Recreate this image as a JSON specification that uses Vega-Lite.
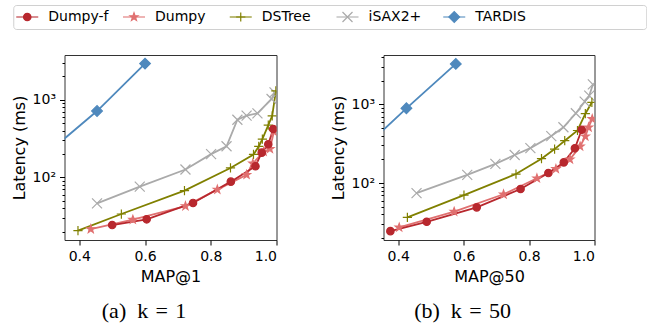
{
  "$schema": "https://vega.github.io/schema/vega-lite/v6.json",
  "padding": {"left": 10, "top": 4, "right": 0, "bottom": 0},
  "background": "white",
  "config": {
    "font": "DejaVu Sans",
    "view": {"stroke": "#333", "strokeWidth": 1},
    "axis": {"domain": false, "grid": false, "tickColor": "black", "labelColor": "black", "titleColor": "black", "labelFont": "DejaVu Sans", "titleFont": "DejaVu Sans", "labelFontSize": 14, "titleFontSize": 16, "titleFontWeight": "normal", "labelPadding": 4, "titlePadding": 5}
  },
  "datasets": {
    "legend": [
      {"series": "Dumpy-f"}, {"series": "Dumpy"}, {"series": "DSTree"}, {"series": "iSAX2+"}, {"series": "TARDIS"}
    ],
    "pts": [
      {"panel": "k1", "series": "TARDIS", "map": 0.30, "latency": 200},
      {"panel": "k1", "series": "TARDIS", "map": 0.454, "latency": 714},
      {"panel": "k1", "series": "TARDIS", "map": 0.60, "latency": 2914},
      {"panel": "k1", "series": "iSAX2+", "map": 0.454, "latency": 46.3},
      {"panel": "k1", "series": "iSAX2+", "map": 0.584, "latency": 75.9},
      {"panel": "k1", "series": "iSAX2+", "map": 0.723, "latency": 126},
      {"panel": "k1", "series": "iSAX2+", "map": 0.801, "latency": 199},
      {"panel": "k1", "series": "iSAX2+", "map": 0.848, "latency": 251},
      {"panel": "k1", "series": "iSAX2+", "map": 0.881, "latency": 552},
      {"panel": "k1", "series": "iSAX2+", "map": 0.909, "latency": 622},
      {"panel": "k1", "series": "iSAX2+", "map": 0.942, "latency": 667},
      {"panel": "k1", "series": "iSAX2+", "map": 0.985, "latency": 1020},
      {"panel": "k1", "series": "iSAX2+", "map": 0.994, "latency": 1240},
      {"panel": "k1", "series": "DSTree", "map": 0.396, "latency": 20.6},
      {"panel": "k1", "series": "DSTree", "map": 0.528, "latency": 33.7},
      {"panel": "k1", "series": "DSTree", "map": 0.720, "latency": 67.4},
      {"panel": "k1", "series": "DSTree", "map": 0.860, "latency": 132},
      {"panel": "k1", "series": "DSTree", "map": 0.930, "latency": 197},
      {"panel": "k1", "series": "DSTree", "map": 0.946, "latency": 250},
      {"panel": "k1", "series": "DSTree", "map": 0.957, "latency": 310},
      {"panel": "k1", "series": "DSTree", "map": 0.975, "latency": 470},
      {"panel": "k1", "series": "DSTree", "map": 0.987, "latency": 620},
      {"panel": "k1", "series": "DSTree", "map": 0.998, "latency": 1300},
      {"panel": "k1", "series": "Dumpy", "map": 0.435, "latency": 21.6},
      {"panel": "k1", "series": "Dumpy", "map": 0.563, "latency": 28.5},
      {"panel": "k1", "series": "Dumpy", "map": 0.723, "latency": 42.6},
      {"panel": "k1", "series": "Dumpy", "map": 0.820, "latency": 69.5},
      {"panel": "k1", "series": "Dumpy", "map": 0.909, "latency": 108},
      {"panel": "k1", "series": "Dumpy", "map": 0.928, "latency": 151},
      {"panel": "k1", "series": "Dumpy", "map": 0.961, "latency": 214},
      {"panel": "k1", "series": "Dumpy", "map": 0.980, "latency": 232},
      {"panel": "k1", "series": "Dumpy", "map": 0.992, "latency": 387},
      {"panel": "k1", "series": "Dumpy-f", "map": 0.500, "latency": 24.3},
      {"panel": "k1", "series": "Dumpy-f", "map": 0.605, "latency": 28.8},
      {"panel": "k1", "series": "Dumpy-f", "map": 0.746, "latency": 46.8},
      {"panel": "k1", "series": "Dumpy-f", "map": 0.861, "latency": 88},
      {"panel": "k1", "series": "Dumpy-f", "map": 0.936, "latency": 139},
      {"panel": "k1", "series": "Dumpy-f", "map": 0.955, "latency": 208},
      {"panel": "k1", "series": "Dumpy-f", "map": 0.975, "latency": 267},
      {"panel": "k1", "series": "Dumpy-f", "map": 0.990, "latency": 419},
      {"panel": "k50", "series": "TARDIS", "map": 0.30, "latency": 290},
      {"panel": "k50", "series": "TARDIS", "map": 0.425, "latency": 889},
      {"panel": "k50", "series": "TARDIS", "map": 0.576, "latency": 3260},
      {"panel": "k50", "series": "iSAX2+", "map": 0.456, "latency": 74.6},
      {"panel": "k50", "series": "iSAX2+", "map": 0.611, "latency": 127},
      {"panel": "k50", "series": "iSAX2+", "map": 0.697, "latency": 175},
      {"panel": "k50", "series": "iSAX2+", "map": 0.756, "latency": 227},
      {"panel": "k50", "series": "iSAX2+", "map": 0.804, "latency": 278},
      {"panel": "k50", "series": "iSAX2+", "map": 0.868, "latency": 395},
      {"panel": "k50", "series": "iSAX2+", "map": 0.905, "latency": 511},
      {"panel": "k50", "series": "iSAX2+", "map": 0.943, "latency": 770},
      {"panel": "k50", "series": "iSAX2+", "map": 0.970, "latency": 1080},
      {"panel": "k50", "series": "iSAX2+", "map": 0.984, "latency": 1290},
      {"panel": "k50", "series": "iSAX2+", "map": 0.995, "latency": 1790},
      {"panel": "k50", "series": "DSTree", "map": 0.428, "latency": 36.6},
      {"panel": "k50", "series": "DSTree", "map": 0.601, "latency": 70.3},
      {"panel": "k50", "series": "DSTree", "map": 0.760, "latency": 130},
      {"panel": "k50", "series": "DSTree", "map": 0.838, "latency": 204},
      {"panel": "k50", "series": "DSTree", "map": 0.878, "latency": 270},
      {"panel": "k50", "series": "DSTree", "map": 0.909, "latency": 345},
      {"panel": "k50", "series": "DSTree", "map": 0.948, "latency": 465},
      {"panel": "k50", "series": "DSTree", "map": 0.972, "latency": 760},
      {"panel": "k50", "series": "DSTree", "map": 0.992, "latency": 1060},
      {"panel": "k50", "series": "Dumpy", "map": 0.403, "latency": 27.3},
      {"panel": "k50", "series": "Dumpy", "map": 0.571, "latency": 43.3},
      {"panel": "k50", "series": "Dumpy", "map": 0.722, "latency": 72},
      {"panel": "k50", "series": "Dumpy", "map": 0.824, "latency": 115},
      {"panel": "k50", "series": "Dumpy", "map": 0.882, "latency": 151},
      {"panel": "k50", "series": "Dumpy", "map": 0.925, "latency": 200},
      {"panel": "k50", "series": "Dumpy", "map": 0.956, "latency": 292},
      {"panel": "k50", "series": "Dumpy", "map": 0.972, "latency": 392},
      {"panel": "k50", "series": "Dumpy", "map": 0.982, "latency": 511},
      {"panel": "k50", "series": "Dumpy", "map": 0.993, "latency": 652},
      {"panel": "k50", "series": "Dumpy-f", "map": 0.376, "latency": 24.5},
      {"panel": "k50", "series": "Dumpy-f", "map": 0.487, "latency": 32.2},
      {"panel": "k50", "series": "Dumpy-f", "map": 0.640, "latency": 49.1},
      {"panel": "k50", "series": "Dumpy-f", "map": 0.774, "latency": 84},
      {"panel": "k50", "series": "Dumpy-f", "map": 0.859, "latency": 134},
      {"panel": "k50", "series": "Dumpy-f", "map": 0.906, "latency": 183},
      {"panel": "k50", "series": "Dumpy-f", "map": 0.940, "latency": 276},
      {"panel": "k50", "series": "Dumpy-f", "map": 0.961, "latency": 476}
    ]
  },
  "spacing": 24,
  "align": {"row": "none", "column": "all"},
  "center": true,
  "resolve": {"scale": {"x": "independent", "y": "independent"}},
  "vconcat": [
    {
      "width": 633,
      "height": 24,
      "view": {"stroke": "#d0d0d0", "cornerRadius": 3},
      "data": {"name": "legend"},
      "encoding": {
        "x": {"field": "series", "type": "nominal", "scale": {"type": "point", "padding": 0, "domain": ["Dumpy-f", "Dumpy", "DSTree", "iSAX2+", "TARDIS"], "range": [14, 441]}, "axis": null}
      },
      "layer": [
        {
          "mark": {"type": "tick", "orient": "horizontal", "size": 22, "thickness": 1.5},
          "encoding": {
            "color": {"field": "series", "type": "nominal", "scale": {"domain": ["Dumpy-f", "Dumpy", "DSTree", "iSAX2+", "TARDIS"], "range": ["#b8282e", "#e07070", "#808000", "#aaaaaa", "#4f89bd"]}, "legend": null}
          }
        },
        {
          "mark": {"type": "point", "filled": true, "strokeWidth": 1.2, "opacity": 1},
          "encoding": {
            "color": {"field": "series", "type": "nominal", "legend": null},
            "stroke": {"field": "series", "type": "nominal", "scale": {"domain": ["Dumpy-f", "Dumpy", "DSTree", "iSAX2+", "TARDIS"], "range": ["#b8282e", "#e07070", "#808000", "#aaaaaa", "#4f89bd"]}, "legend": null},
            "shape": {"field": "series", "type": "nominal", "scale": {"domain": ["Dumpy-f", "Dumpy", "DSTree", "iSAX2+", "TARDIS"], "range": ["circle", "M0,-1L0.235,-0.324L0.951,-0.309L0.380,0.124L0.588,0.809L0,0.4L-0.588,0.809L-0.380,0.124L-0.951,-0.309L-0.235,-0.324Z", "M-1,0H1M0,-1V1", "M-1,-1L1,1M-1,1L1,-1", "diamond"]}, "legend": null},
            "size": {"field": "series", "type": "nominal", "scale": {"domain": ["Dumpy-f", "Dumpy", "DSTree", "iSAX2+", "TARDIS"], "range": [55, 115, 85, 75, 55]}, "legend": null}
          }
        },
        {
          "mark": {"type": "text", "align": "left", "baseline": "middle", "dx": 21, "fontSize": 14, "font": "DejaVu Sans", "color": "black"},
          "encoding": {
            "text": {"field": "series", "type": "nominal"}
          }
        }
      ]
    },
    {
      "spacing": 52,
      "hconcat": [
        {
          "width": 212,
          "height": 185,
          "title": {"text": "(a)\u2002k\u2004=\u20041", "orient": "bottom", "frame": "bounds", "font": "Liberation Serif", "fontSize": 22, "fontWeight": "normal", "offset": 17, "color": "black"},
          "data": {"name": "pts"},
          "transform": [{"filter": "datum.panel == 'k1'"}],
          "encoding": {
            "x": {"field": "map", "type": "quantitative", "title": "MAP@1", "scale": {"domain": [0.355, 1.0], "nice": false, "zero": false}, "axis": {"values": [0.4, 0.6, 0.8, 1.0], "format": ".1f"}},
            "y": {"field": "latency", "type": "quantitative", "title": "Latency (ms)", "scale": {"type": "log", "domain": [15.6, 3760], "nice": false}, "axis": {"values": [20, 30, 40, 50, 60, 70, 80, 90, 100, 200, 300, 400, 500, 600, 700, 800, 900, 1000, 2000, 3000], "labelExpr": "datum.value == 100 ? '10²' : datum.value == 1000 ? '10³' : ''", "tickSize": {"condition": {"test": "datum.value == 100 || datum.value == 1000", "value": 5}, "value": 2.5}}},
            "color": {"field": "series", "type": "nominal", "legend": null},
            "detail": {"field": "series"}
          },
          "layer": [
            {"mark": {"type": "line", "clip": true, "strokeWidth": 1.8}},
            {
              "transform": [{"filter": "datum.map >= 0.355"}],
              "mark": {"type": "point", "filled": true, "clip": true, "strokeWidth": 1.2, "opacity": 1},
              "encoding": {
                "stroke": {"field": "series", "type": "nominal", "legend": null},
                "shape": {"field": "series", "type": "nominal", "legend": null},
                "size": {"field": "series", "type": "nominal", "legend": null}
              }
            }
          ]
        },
        {
          "width": 211,
          "height": 185,
          "title": {"text": "(b)\u2002k\u2004=\u200450", "orient": "bottom", "frame": "bounds", "font": "Liberation Serif", "fontSize": 22, "fontWeight": "normal", "offset": 17, "color": "black"},
          "data": {"name": "pts"},
          "transform": [{"filter": "datum.panel == 'k50'"}],
          "encoding": {
            "x": {"field": "map", "type": "quantitative", "title": "MAP@50", "scale": {"domain": [0.355, 1.0], "nice": false, "zero": false}, "axis": {"values": [0.4, 0.6, 0.8, 1.0], "format": ".1f"}},
            "y": {"field": "latency", "type": "quantitative", "title": "Latency (ms)", "scale": {"type": "log", "domain": [18.9, 4230], "nice": false}, "axis": {"values": [20, 30, 40, 50, 60, 70, 80, 90, 100, 200, 300, 400, 500, 600, 700, 800, 900, 1000, 2000, 3000, 4000], "labelExpr": "datum.value == 100 ? '10²' : datum.value == 1000 ? '10³' : ''", "tickSize": {"condition": {"test": "datum.value == 100 || datum.value == 1000", "value": 5}, "value": 2.5}}},
            "color": {"field": "series", "type": "nominal", "legend": null},
            "detail": {"field": "series"}
          },
          "layer": [
            {"mark": {"type": "line", "clip": true, "strokeWidth": 1.8}},
            {
              "transform": [{"filter": "datum.map >= 0.355"}],
              "mark": {"type": "point", "filled": true, "clip": true, "strokeWidth": 1.2, "opacity": 1},
              "encoding": {
                "stroke": {"field": "series", "type": "nominal", "legend": null},
                "shape": {"field": "series", "type": "nominal", "legend": null},
                "size": {"field": "series", "type": "nominal", "legend": null}
              }
            }
          ]
        }
      ],
      "resolve": {"scale": {"x": "independent", "y": "independent"}}
    }
  ]
}
